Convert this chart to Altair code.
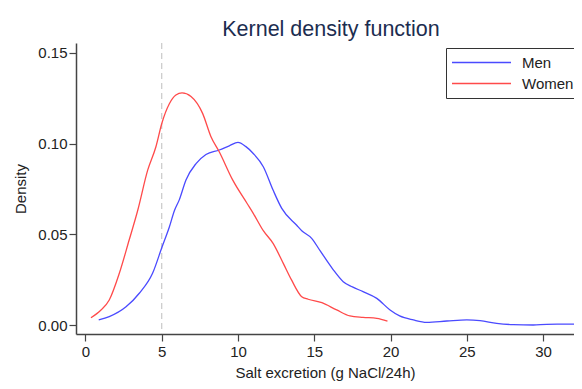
import altair as alt
import pandas as pd

# ---- data ----
series = ["Men", "Women"]
colors = ["#4a4aff", "#ff4a4a"]

men_x = [0.87, 1.56, 2.66, 3.53, 4.4, 5.02, 5.5, 5.83, 6.15, 6.59, 7.25, 7.9, 8.77,
         9.43, 10.0, 10.5, 11.0, 11.66, 12.3, 12.87, 13.85, 14.18, 14.83, 15.38,
         16.2, 16.9, 17.5, 18.2, 19.1, 19.97, 20.6, 21.5, 22.37, 23.7, 25.0, 25.87,
         26.96, 28.05, 29.36, 30.24, 31.55, 32.4, 33.5]
men_y = [0.0028, 0.0046, 0.0100, 0.0175, 0.0285, 0.0430, 0.0540, 0.0630, 0.0690,
         0.0800, 0.0890, 0.0940, 0.0965, 0.0988, 0.1007, 0.0985, 0.0946, 0.0873,
         0.0744, 0.0643, 0.0550, 0.0520, 0.0478, 0.0410, 0.0310, 0.0239, 0.0210,
         0.0184, 0.0147, 0.0083, 0.0050, 0.0028, 0.0015, 0.0022, 0.0028, 0.0024,
         0.0009, 0.0002, 0.0000, 0.0004, 0.0005, 0.0004, 0.0004]

women_x = [0.36, 1.02, 1.56, 2.22, 2.87, 3.42, 4.08, 4.62, 5.0, 5.5, 5.93, 6.33,
           6.92, 7.68, 8.23, 8.77, 9.65, 10.6, 11.0, 11.66, 12.3, 12.97, 13.5,
           14.18, 14.6, 15.5, 16.47, 17.34, 18.2, 19.1, 19.8]
women_y = [0.0040, 0.0083, 0.0138, 0.0285, 0.0470, 0.0630, 0.0854, 0.0983, 0.1110,
           0.1220, 0.1268, 0.1280, 0.1260, 0.1167, 0.1038, 0.0955, 0.0800, 0.0670,
           0.0616, 0.0520, 0.0450, 0.0340, 0.0250, 0.0156, 0.0142, 0.0123, 0.0083,
           0.0050, 0.0042, 0.0037, 0.0022]

ref_x = [5]
x_ticks = [0, 5, 10, 15, 20, 25, 30]
y_ticks = [0.0, 0.05, 0.10, 0.15]

df = pd.concat([
    pd.DataFrame({"salt": men_x, "density": men_y, "series": "Men", "order": range(len(men_x))}),
    pd.DataFrame({"salt": women_x, "density": women_y, "series": "Women", "order": range(len(women_x))}),
])
ref_df = pd.DataFrame({"salt": ref_x})

FONT = "Liberation Sans"
x_scale = alt.Scale(domain=[-0.62, 32.03], nice=False, zero=False)
y_scale = alt.Scale(domain=[-0.00496, 0.1555], nice=False, zero=False)

ref = alt.Chart(ref_df).mark_rule(color="#c8c8c8", strokeDash=[6, 4], strokeWidth=1.2).encode(
    x=alt.X("salt:Q", scale=x_scale)
)

lines = alt.Chart(df).mark_line(clip=True, strokeWidth=1.3, interpolate="monotone").encode(
    x=alt.X("salt:Q", scale=x_scale,
            axis=alt.Axis(values=x_ticks, title="Salt excretion (g NaCl/24h)", titlePadding=6,
                          labelPadding=3, format="d")),
    y=alt.Y("density:Q", scale=y_scale,
            axis=alt.Axis(values=y_ticks, format=".2f", title="Density", titlePadding=9,
                          labelPadding=2)),
    color=alt.Color("series:N", scale=alt.Scale(domain=series, range=colors),
                    legend=alt.Legend(title=None, orient="none", legendX=370, legendY=5,
                                      symbolType="stroke", symbolSize=3481, symbolStrokeWidth=1.3,
                                      clipHeight=19, rowPadding=2, padding=5, labelOffset=10,
                                      strokeColor="#333333", fillColor="white",
                                      labelFontSize=15, labelFont=FONT, labelColor="#222222",
                                      labelExpr="datum.label + '            '")),
    order="order:Q",
)

chart = alt.layer(ref, lines).properties(
    width=498, height=291,
    title=alt.Title("Kernel density function", fontSize=21.5, font=FONT, fontWeight="normal",
                    color="#1c2d50", offset=2, dx=6),
    autosize=alt.AutoSizeParams(type="none"),
    padding={"left": 68, "top": 35, "right": 0, "bottom": 47},
).configure_view(stroke=None).configure_axis(
    grid=False, domainColor="#444444", domainWidth=1.5, tickColor="#444444", tickWidth=1.2,
    tickSize=7, labelFont=FONT, labelFontSize=15, labelColor="#222222",
    titleFont=FONT, titleFontSize=15, titleFontWeight="normal", titleColor="#222222",
)

chart.save("out.html", embed_options={"renderer": "svg", "actions": False})
